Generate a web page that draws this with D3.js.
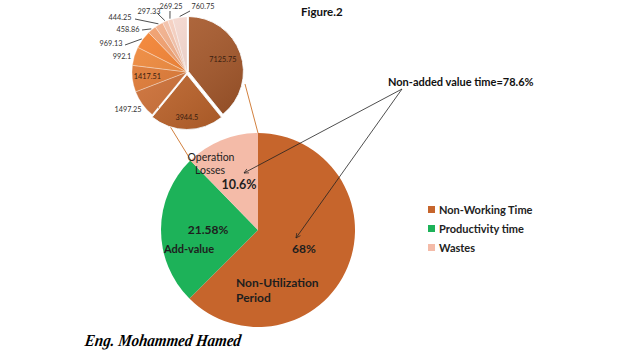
<!DOCTYPE html>
<html lang="en">
<head>
<meta charset="UTF-8">
<title>Figure.2</title>
<script src="https://d3js.org/d3.v7.min.js"></script>
<style>
  body { margin: 0; background: #fff; }
  svg { display: block; font-family: Lato, "Open Sans", sans-serif; }
</style>
</head>
<body>
<div id="chart"></div>
<script>
// main pie: legend categories, slice shares as drawn, and the printed labels
const categories = ["Non-Working Time", "Productivity time", "Wastes"];
const shares = [62.5, 25.2, 12.3];
const percentLabels = ["68%", "21.58%", "10.6%"];
const colors = ["#c6652c", "#1db259", "#f4bba8"];

// small pie (breakdown), clockwise from 12 o'clock
const detailValues = [7125.75, 3944.5, 1497.25, 1417.51, 992.1, 969.13, 458.86, 444.25, 297.33, 269.25, 760.75];
const detailColors = ["#a9592a", "#c2652a", "#d27034", "#e27830", "#f08636", "#f47f2c",
                      "#f29c68", "#f3ae88", "#f5c0a7", "#f8d0c0", "#f7d9d0"];
const explode = [1.5, 2.5, 0, 0, 0, 0, 0, 0, 0, 0, 0];

const width = 638, height = 359;

const svg = d3.select("#chart").append("svg")
  .attr("width", width)
  .attr("height", height);

const defs = svg.append("defs");
const sheen = defs.append("linearGradient")
  .attr("id", "sheen")
  .attr("gradientUnits", "userSpaceOnUse")
  .attr("x1", -45).attr("y1", -50).attr("x2", 45).attr("y2", 55);
sheen.append("stop").attr("offset", "0%").attr("stop-color", "#fff").attr("stop-opacity", 0.1);
sheen.append("stop").attr("offset", "100%").attr("stop-color", "#000").attr("stop-opacity", 0.16);

defs.append("marker")
  .attr("id", "arrow")
  .attr("viewBox", "0 0 10 10")
  .attr("refX", 9).attr("refY", 5)
  .attr("markerWidth", 7).attr("markerHeight", 7)
  .attr("orient", "auto")
  .append("path")
  .attr("d", "M1,1 L9,5 L1,9")
  .attr("fill", "none")
  .attr("stroke", "#222")
  .attr("stroke-width", 1.2);

// connector lines between the two pies
const conn = svg.append("g").attr("stroke", "#d2813f").attr("stroke-width", 1).attr("fill", "none");
conn.append("line").attr("x1", 152).attr("y1", 97).attr("x2", 195).attr("y2", 167);
conn.append("line").attr("x1", 245).attr("y1", 84).attr("x2", 258).attr("y2", 133);

// main pie
const cx = 258, cy = 230, R = 97;
const pie = d3.pie().sort(null).value(d => d);
const arc = d3.arc().innerRadius(0).outerRadius(R);
const main = svg.append("g").attr("transform", `translate(${cx},${cy})`);
main.selectAll("path")
  .data(pie(shares))
  .join("path")
  .attr("d", arc)
  .attr("fill", (d, i) => colors[i]);

// small pie
const scx = 187, scy = 72, sr = 55;
const sArc = d3.arc().innerRadius(0).outerRadius(sr);
const sArcs = pie(detailValues);
const small = svg.append("g").attr("transform", `translate(${scx},${scy})`);
const slice = small.selectAll("g")
  .data(sArcs)
  .join("g")
  .attr("transform", (d, i) => {
    const a = (d.startAngle + d.endAngle) / 2;
    return `translate(${Math.sin(a) * explode[i]},${-Math.cos(a) * explode[i]})`;
  });
slice.append("path")
  .attr("d", sArc)
  .attr("fill", (d, i) => detailColors[i])
  .attr("stroke", "#fff")
  .attr("stroke-width", (d, i) => explode[i] ? 1 : 0.35);
slice.append("path")
  .attr("d", sArc)
  .attr("fill", "url(#sheen)");

// labels inside the small pie
const inside = [[0, 38], [1, 46], [3, 40]];
inside.forEach(([i, rr]) => {
  const d = sArcs[i];
  const a = (d.startAngle + d.endAngle) / 2;
  small.append("text")
    .attr("x", Math.sin(a) * rr)
    .attr("y", -Math.cos(a) * rr + 2.5)
    .attr("text-anchor", "middle")
    .attr("font-size", 7.3)
    .attr("fill", "#3a2010")
    .text(detailValues[i]);
});

// labels outside the small pie: [index, x, y, leader start x, leader start y]
const outside = [
  [2, 128, 112, null, null],
  [4, 122, 59, null, null],
  [5, 111, 46, 125, 45],
  [6, 128, 32, 142, 30],
  [7, 120, 20, 135, 19],
  [8, 149, 14, 158, 14],
  [9, 171, 9, 170, 11],
  [10, 203, 9, 190, 11]
];
const ol = svg.append("g");
outside.forEach(([i, x, y, lx, ly]) => {
  ol.append("text")
    .attr("x", x).attr("y", y)
    .attr("text-anchor", "middle")
    .attr("font-size", 7.3)
    .attr("fill", "#333")
    .text(detailValues[i]);
  if (lx !== null) {
    const d = sArcs[i];
    const a = (d.startAngle + d.endAngle) / 2;
    ol.append("line")
      .attr("x1", lx).attr("y1", ly)
      .attr("x2", scx + Math.sin(a) * (sr + 1))
      .attr("y2", scy - Math.cos(a) * (sr + 1))
      .attr("stroke", "#222").attr("stroke-width", 0.8);
  }
});

// text on the main pie
const t = svg.append("g").attr("fill", "#1e1e1e").attr("font-weight", "bold");
t.append("text").attr("x", 211).attr("y", 161).attr("text-anchor", "middle").attr("font-size", 10.5)
  .attr("font-weight", "normal").text("Operation");
t.append("text").attr("x", 210).attr("y", 174).attr("text-anchor", "middle").attr("font-size", 10.5)
  .attr("font-weight", "normal").text("Losses");
t.append("text").attr("x", 239).attr("y", 189).attr("text-anchor", "middle").attr("font-size", 12.5).text(percentLabels[2]);
t.append("text").attr("x", 208).attr("y", 234).attr("text-anchor", "middle").attr("font-size", 12).text(percentLabels[1]);
t.append("text").attr("x", 164).attr("y", 253).attr("font-size", 11).text("Add-value");
t.append("text").attr("x", 304).attr("y", 253).attr("text-anchor", "middle").attr("font-size", 12).text(percentLabels[0]);
t.append("text").attr("x", 236).attr("y", 287).attr("font-size", 12).text("Non-Utilization");
t.append("text").attr("x", 236).attr("y", 302).attr("font-size", 12).text("Period");

// annotation with arrows
svg.append("text")
  .attr("x", 388).attr("y", 86)
  .attr("font-size", 11).attr("font-weight", "bold").attr("fill", "#111")
  .text("Non-added value time=78.6%");
const arrows = svg.append("g").attr("stroke", "#222").attr("stroke-width", 0.8).attr("fill", "none");
arrows.append("line").attr("x1", 402).attr("y1", 89).attr("x2", 244).attr("y2", 173).attr("marker-end", "url(#arrow)");
arrows.append("line").attr("x1", 402).attr("y1", 89).attr("x2", 296).attr("y2", 238).attr("marker-end", "url(#arrow)");

// title
svg.append("text")
  .attr("x", 301).attr("y", 16)
  .attr("font-size", 11.5).attr("font-weight", "bold").attr("fill", "#111")
  .text("Figure.2");

// legend
const legend = svg.append("g").attr("transform", "translate(428,206)");
const item = legend.selectAll("g")
  .data(categories)
  .join("g")
  .attr("transform", (d, i) => `translate(0,${i * 19})`);
item.append("rect")
  .attr("x", 0).attr("y", 0).attr("width", 7).attr("height", 7)
  .attr("fill", (d, i) => colors[i]);
item.append("text")
  .attr("x", 11).attr("y", 7.5)
  .attr("font-size", 11).attr("font-weight", "bold").attr("fill", "#222")
  .text(d => d);

// signature
svg.append("text")
  .attr("x", 84).attr("y", 346)
  .attr("font-family", "'Liberation Serif', serif")
  .attr("font-style", "italic").attr("font-weight", "bold")
  .attr("font-size", 17).attr("fill", "#000")
  .attr("textLength", 156).attr("lengthAdjust", "spacingAndGlyphs")
  .attr("transform", "translate(49,0) skewX(-8)")
  .text("Eng. Mohammed Hamed");
</script>
</body>
</html>
